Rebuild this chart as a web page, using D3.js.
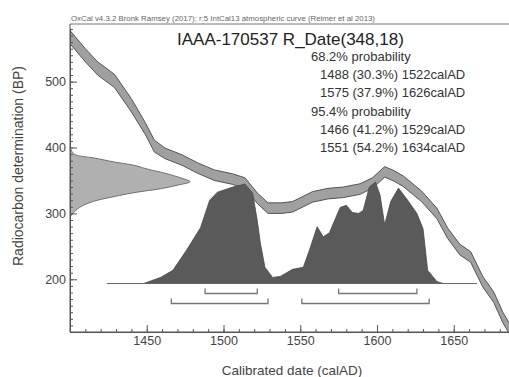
<!DOCTYPE html>
<html><head><meta charset="utf-8">
<script src="https://cdn.jsdelivr.net/npm/d3@7"></script>
<style>
html,body{margin:0;padding:0;background:#fff;}
svg{display:block;font-family:"Liberation Sans",Arial,sans-serif;}
</style></head>
<body>
<svg id="chart" width="509" height="377"></svg>
<script>
// ---- Data ----
const headerText = "OxCal v4.3.2 Bronk Ramsey (2017); r:5 IntCal13 atmospheric curve (Reimer et al 2013)";
const titleText = "IAAA-170537 R_Date(348,18)";
const legendLines = ["68.2% probability","1488 (30.3%) 1522calAD","1575 (37.9%) 1626calAD",
                     "95.4% probability","1466 (41.2%) 1529calAD","1551 (54.2%) 1634calAD"];
const legendIndent = [0,1,1,0,1,1];

// calibration curve (IntCal13), centre and 1-sigma
const curveYears = [1398,1410,1418,1429,1440,1449,1455,1462,1473,1483,1494,1506,1514,1522,1529,1538,1545,1558,1568,1578,1589,1597,1605,1611,1617,1629,1639,1646,1654,1661,1669,1676,1682,1690];
const curveBP    = [573,540,520,501,464,429,402,391,381,369,358,352,346,323,308,308,310,325,330,332,337,346,363,357,349,326,300,270,245,234,196,173,142,110];
const curveErr   = [10,10,10,10,10,9,9,8,8,8,8,8,8,8,8,8,8,8,8,8,8,8,8,8,8,8,8,8,8,8,8,8,8,8];

// radiocarbon measurement distribution (on BP axis)
const gaussBP   = [295,298,305,313,320,326,331,338.6,343,348,354,361,367,373.5,378,384,388,391,396,400];
const gaussProb = [0,0.015,0.05,0.12,0.23,0.38,0.52,0.79,0.9,1.0,0.92,0.79,0.65,0.52,0.37,0.2,0.06,0.03,0.01,0];

// calibrated distribution
const distYears = [1448,1459,1467,1476,1485,1491,1496,1506,1514,1519,1522,1524,1527,1532,1537,1545,1552,1556,1561,1565,1569,1576,1580,1584,1588,1591,1595,1599,1602,1605,1609,1614,1620,1626,1630,1633,1639,1643];
const distProb  = [0,0.06,0.13,0.33,0.55,0.82,0.9,0.95,0.98,0.89,0.62,0.4,0.16,0.06,0.07,0.14,0.16,0.33,0.56,0.46,0.5,0.75,0.77,0.7,0.69,0.72,0.95,1.0,0.87,0.58,0.81,0.94,0.82,0.69,0.54,0.13,0.02,0];
const distBaseline = [1424,1665];

// ranges
const ranges68 = [[1488,1522],[1575,1626]];
const ranges95 = [[1466,1529],[1551,1634]];

const xTicks = [1450,1500,1550,1600,1650];
const yTicks = [200,300,400,500];

// ---- Drawing ----
const svg = d3.select("#chart");
const x = d3.scaleLinear().domain([1400,1700]).range([70,530.5]);
const y = d3.scaleLinear().domain([120,580]).range([332,28.9]);
const gx = d3.scaleLinear().domain([0,1]).range([70,190]);
const dy = d3.scaleLinear().domain([0,1]).range([283.5,182]);

svg.append("clipPath").attr("id","clip").append("rect")
  .attr("x",70).attr("y",24).attr("width",460).attr("height",308);

const plot = svg.append("g").attr("clip-path","url(#clip)");

// header
svg.append("text").attr("x",71).attr("y",21).attr("font-size",6.6).attr("fill","#666")
  .attr("textLength",304).attr("lengthAdjust","spacingAndGlyphs").text(headerText);

// frame top line
svg.append("line").attr("x1",70).attr("x2",509).attr("y1",24).attr("y2",24)
  .attr("stroke","#777").attr("stroke-width",1);

// gaussian
const gpts = gaussBP.map((b,i)=>({b, p:gaussProb[i]}));
plot.append("path").datum(gpts)
  .attr("d", d3.area().y(d=>y(d.b)).x0(gx(0)).x1(d=>gx(d.p)).curve(d3.curveMonotoneY))
  .attr("fill","#b0b0b0").attr("stroke","#707070").attr("stroke-width",1);

// calibration curve band
const cpts = curveYears.map((yr,i)=>({yr, c:curveBP[i], e:curveErr[i]}));
plot.append("path").datum(cpts)
  .attr("d", d3.area().x(d=>x(d.yr)).y0(d=>y(d.c-d.e)).y1(d=>y(d.c+d.e)))
  .attr("fill","#a0a0a0").attr("stroke","#555").attr("stroke-width",1);

// calibrated distribution
const dpts = distYears.map((yr,i)=>({yr, p:distProb[i]}));
plot.append("path").datum(dpts)
  .attr("d", d3.area().x(d=>x(d.yr)).y0(dy(0)).y1(d=>dy(d.p)))
  .attr("fill","#5a5a5a").attr("stroke","#4a4a4a").attr("stroke-width",0.8);

plot.append("line").attr("x1",x(distBaseline[0])).attr("x2",x(distBaseline[1]))
  .attr("y1",dy(0)).attr("y2",dy(0)).attr("stroke","#666").attr("stroke-width",1);

// range brackets
function bracket(r, yy){
  const g = svg.append("g").attr("fill","none").attr("stroke","#777").attr("stroke-width",1.3);
  g.append("path").attr("d", `M${x(r[0])},${yy-5}V${yy}H${x(r[1])}V${yy-5}`);
}
ranges68.forEach(r=>bracket(r,293.5));
ranges95.forEach(r=>bracket(r,303.5));

// axes
const axisColor = "#555";
const xMinor = d3.range(1400,1701,10);
svg.append("g").attr("transform","translate(0,332)")
  .call(d3.axisBottom(x).tickValues(xMinor).tickSize(-3).tickFormat("").tickSizeOuter(0));
const gxAx = svg.append("g").attr("transform","translate(0,332)")
  .call(d3.axisBottom(x).tickValues(xTicks).tickSize(-7).tickPadding(4).tickSizeOuter(0).tickFormat(d3.format("d")));
gxAx.selectAll("text").attr("font-size",12.5).attr("fill","#444").attr("font-family","Liberation Sans, Arial, sans-serif");

const yMinor = d3.range(130,581,10);
svg.append("g").attr("transform","translate(70,0)")
  .call(d3.axisLeft(y).tickValues(yMinor).tickSize(-3).tickFormat("").tickSizeOuter(0));
const gyAx = svg.append("g").attr("transform","translate(70,0)")
  .call(d3.axisLeft(y).tickValues(yTicks).tickSize(-7).tickPadding(4).tickSizeOuter(0).tickFormat(d3.format("d")));
gyAx.selectAll("text").attr("font-size",12.5).attr("fill","#444").attr("font-family","Liberation Sans, Arial, sans-serif");

svg.selectAll(".domain").attr("stroke",axisColor);
svg.selectAll(".tick line").attr("stroke",axisColor);
svg.append("line").attr("x1",70).attr("x2",509).attr("y1",332).attr("y2",332).attr("stroke",axisColor);
svg.append("line").attr("x1",70).attr("x2",70).attr("y1",24).attr("y2",332).attr("stroke",axisColor);

// axis titles
svg.append("text").attr("x",292).attr("y",375).attr("text-anchor","middle")
  .attr("font-size",13.5).attr("fill","#444").text("Calibrated date (calAD)");
svg.append("text").attr("transform","translate(23,166) rotate(-90)").attr("text-anchor","middle")
  .attr("font-size",14).attr("fill","#444").text("Radiocarbon determination (BP)");

// title and legend
svg.append("text").attr("x",177).attr("y",45).attr("font-size",17).attr("fill","#222").text(titleText);
legendLines.forEach((t,i)=>{
  svg.append("text").attr("x", legendIndent[i] ? 320 : 311).attr("y", 61 + i*18.2)
    .attr("font-size",13).attr("fill","#333").text(t);
});
</script>
</body></html>
